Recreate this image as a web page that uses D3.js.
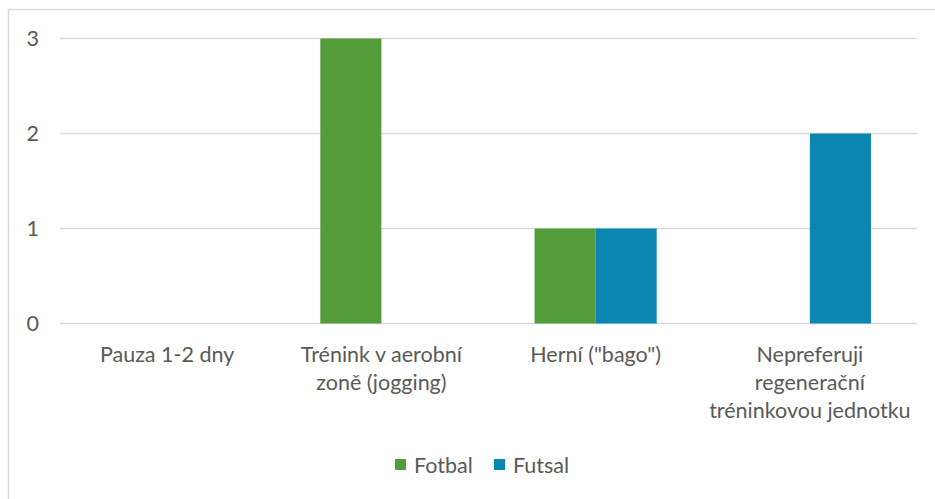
<!DOCTYPE html>
<html lang="cs">
<head>
<meta charset="UTF-8">
<title>Regenerace</title>
<script src="https://d3js.org/d3.v7.min.js"></script>
<style>
  body { margin: 0; background: #fff; }
  svg text { font-family: Lato, "Open Sans", sans-serif; fill: #595959; }
</style>
</head>
<body>
<svg id="chart" width="935" height="499"></svg>
<script>
// data
const categories = [
  ["Pauza 1-2 dny"],
  ["Trénink v aerobní", "zoně (jogging)"],
  ["Herní (\"bago\")"],
  ["Nepreferuji", "regenerační", "tréninkovou jednotku"]
];
const seriesNames = ["Fotbal", "Futsal"];
const fotbal = [0, 3, 1, 0];
const futsal = [0, 0, 1, 2];
const yTicks = [0, 1, 2, 3];
const colors = ["#549c3a", "#0b86b0"];

const svg = d3.select("#chart");
const margin = {top: 38.5, left: 60, right: 18, bottom: 175.5};
const W = 935, H = 499;
const fs = 21.5;

// frame
svg.append("rect").attr("x", 8.5).attr("y", 9.5).attr("width", 940).attr("height", 500)
  .attr("fill", "none").attr("stroke", "#d9d9d9").attr("stroke-width", 1.5);

const x = d3.scaleBand().domain(d3.range(categories.length))
  .range([margin.left, W - margin.right]);
const y = d3.scaleLinear().domain([0, 3]).range([H - margin.bottom, margin.top]);
const barW = x.bandwidth() * 0.285;

// gridlines
svg.append("g").selectAll("line").data(yTicks).join("line")
  .attr("x1", margin.left).attr("x2", W - margin.right)
  .attr("y1", d => y(d)).attr("y2", d => y(d))
  .attr("stroke", "#d9d9d9").attr("stroke-width", 1.5);

// y labels
svg.append("g").selectAll("text").data(yTicks).join("text")
  .attr("x", 39).attr("y", d => y(d)).attr("dy", "0.35em")
  .attr("text-anchor", "end").attr("font-size", fs).text(d => d);

// bars
const series = [fotbal, futsal];
series.forEach((vals, s) => {
  svg.append("g").selectAll("rect").data(vals).join("rect")
    .attr("x", (d, i) => x(i) + x.bandwidth() / 2 - barW + s * barW)
    .attr("width", barW)
    .attr("y", d => y(d))
    .attr("height", d => y(0) - y(d))
    .attr("fill", colors[s]);
});

// category labels
const cat = svg.append("g").selectAll("text").data(categories).join("text")
  .attr("text-anchor", "middle").attr("font-size", fs)
  .attr("x", (d, i) => x(i) + x.bandwidth() / 2);
cat.selectAll("tspan").data(d => d).join("tspan")
  .attr("x", function() { return this.parentNode.getAttribute("x"); })
  .attr("y", (d, j) => 362 + j * 28)
  .text(d => d);

// legend
const legend = svg.append("g");
const lx = [395, 494];
seriesNames.forEach((n, s) => {
  legend.append("rect").attr("x", lx[s]).attr("y", 459).attr("width", 11).attr("height", 11)
    .attr("fill", colors[s]);
  legend.append("text").attr("x", lx[s] + 19).attr("y", 465).attr("dy", "0.35em")
    .attr("font-size", fs).text(n);
});
</script>
</body>
</html>
